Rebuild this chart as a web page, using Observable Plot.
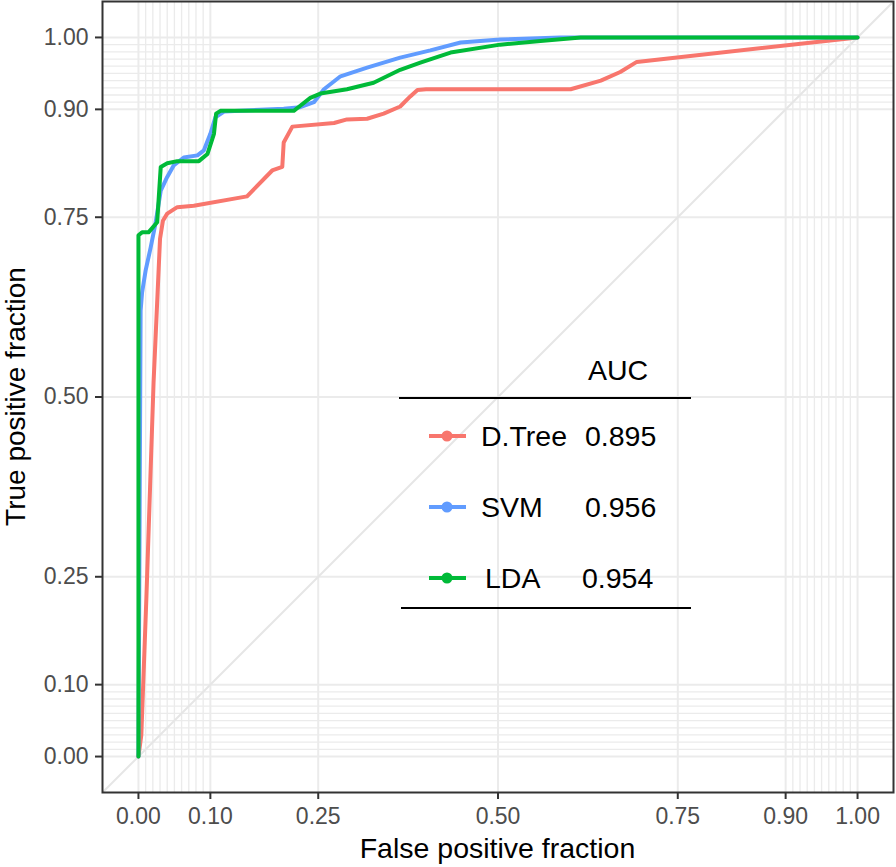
<!DOCTYPE html>
<html><head><meta charset="utf-8">
<script src="https://cdn.jsdelivr.net/npm/d3@7"></script>
<script src="https://cdn.jsdelivr.net/npm/@observablehq/plot@0.6"></script>
<style>
body{margin:0;background:#fff;}
#chart{position:relative;width:896px;height:867px;}
</style>
</head><body><div id="chart"></div>
<script>
// ---- data ----
const breaks = [0, 0.1, 0.25, 0.5, 0.75, 0.9, 1];
const tickLabels = ["0.00", "0.10", "0.25", "0.50", "0.75", "0.90", "1.00"];
const minorBreaks = [0.01,0.02,0.03,0.04,0.05,0.06,0.07,0.08,0.09,0.91,0.92,0.93,0.94,0.95,0.96,0.97,0.98,0.99];
const diagonal = [-0.05, 1.05];

const models = ["D.Tree", "SVM", "LDA"];
const aucValues = ["0.895", "0.956", "0.954"];
const modelColors = ["#F8766D", "#619CFF", "#00BA38"];

const dtreeFPR = [0,0.004,0.011,0.021,0.030,0.034,0.040,0.054,0.077,0.151,0.186,0.200,0.202,0.214,0.272,0.290,0.318,0.341,0.364,0.378,0.388,0.400,0.601,0.643,0.670,0.693,1];
const dtreeTPR = [0,0.03,0.22,0.52,0.72,0.745,0.755,0.764,0.766,0.779,0.815,0.820,0.854,0.876,0.881,0.886,0.887,0.894,0.904,0.918,0.927,0.928,0.928,0.940,0.952,0.966,1];

const svmFPR = [0,0.003,0.005,0.010,0.017,0.024,0.031,0.040,0.049,0.063,0.082,0.091,0.100,0.107,0.119,0.202,0.225,0.244,0.258,0.281,0.318,0.364,0.406,0.448,0.503,0.587,1];
const svmTPR = [0,0.62,0.645,0.676,0.708,0.743,0.787,0.806,0.822,0.833,0.836,0.843,0.866,0.889,0.897,0.901,0.903,0.910,0.928,0.946,0.958,0.972,0.982,0.993,0.997,1.0,1];

const ldaFPR = [0,0,0.005,0.014,0.026,0.031,0.040,0.054,0.084,0.096,0.105,0.108,0.114,0.216,0.225,0.239,0.253,0.290,0.327,0.364,0.392,0.434,0.503,0.559,0.615,1];
const ldaTPR = [0,0.725,0.729,0.729,0.743,0.820,0.825,0.828,0.828,0.838,0.866,0.894,0.898,0.898,0.905,0.916,0.922,0.928,0.937,0.955,0.965,0.979,0.990,0.995,1.0,1];

// ---- build table ----
const series = [[dtreeFPR, dtreeTPR], [svmFPR, svmTPR], [ldaFPR, ldaTPR]];
const rows = series.flatMap(([fx, ty], k) => fx.map((v, i) => ({model: models[k], fpr: v, tpr: ty[i]})));

const fontFamily = '"Liberation Sans", Arial, Helvetica, sans-serif';
const fmt = d => tickLabels[breaks.indexOf(d)];

const plot = Plot.plot({
  width: 896, height: 867,
  marginLeft: 102, marginRight: 3, marginTop: 1, marginBottom: 75,
  style: {fontFamily, background: "#fff"},
  x: {domain: [-0.05, 1.05]},
  y: {domain: [-0.05, 1.05]},
  color: {domain: models, range: modelColors},
  marks: [
    Plot.ruleX(minorBreaks, {stroke: "#ebebeb", strokeWidth: 1.3}),
    Plot.ruleY(minorBreaks, {stroke: "#ebebeb", strokeWidth: 1.3}),
    Plot.ruleX(breaks, {stroke: "#ebebeb", strokeWidth: 2}),
    Plot.ruleY(breaks, {stroke: "#ebebeb", strokeWidth: 2}),
    Plot.line(diagonal, {x: d => d, y: d => d, stroke: "#e6e6e6", strokeWidth: 2, clip: true}),
    Plot.line(rows, {x: "fpr", y: "tpr", z: "model", stroke: "model", strokeWidth: 4, strokeLinejoin: "round", strokeLinecap: "round"}),
    Plot.frame({stroke: "#333", strokeWidth: 2}),
    Plot.axisX({ticks: breaks, tickFormat: fmt, tickSize: 7, tickPadding: 8, fontSize: 23, stroke: "#333", strokeWidth: 2, fill: "#4d4d4d", label: null}),
    Plot.axisY({ticks: breaks, tickFormat: fmt, tickSize: 7, tickPadding: 7, fontSize: 23, stroke: "#333", strokeWidth: 2, fill: "#4d4d4d", label: null})
  ]
});
document.getElementById("chart").appendChild(plot);

// ---- axis titles and legend (layout overlay) ----
const svg = d3.select(plot);
svg.append("text").attr("x", 497.5).attr("y", 858).attr("text-anchor", "middle")
  .attr("font-size", 28.5).attr("font-family", fontFamily).attr("fill", "#000").text("False positive fraction");
svg.append("text").attr("transform", "translate(25,396.5) rotate(-90)").attr("text-anchor", "middle")
  .attr("font-size", 28).attr("font-family", fontFamily).attr("fill", "#000").text("True positive fraction");

const lg = svg.append("g").attr("font-family", fontFamily).attr("font-size", 28.5).attr("fill", "#000").attr("text-anchor", "start");
lg.append("text").attr("x", 618).attr("y", 370).attr("dy", "0.35em").attr("text-anchor", "middle").text("AUC");
lg.append("line").attr("x1", 399).attr("x2", 691).attr("y1", 398).attr("y2", 398).attr("stroke", "#000").attr("stroke-width", 2.2);
lg.append("line").attr("x1", 401).attr("x2", 691).attr("y1", 608).attr("y2", 608).attr("stroke", "#000").attr("stroke-width", 2.2);
const rowY = [436, 507, 578];
models.forEach((m, i) => {
  const y = rowY[i];
  lg.append("line").attr("x1", 429).attr("x2", 466).attr("y1", y).attr("y2", y).attr("stroke", modelColors[i]).attr("stroke-width", 4);
  lg.append("circle").attr("cx", 447).attr("cy", y).attr("r", 5.5).attr("fill", modelColors[i]);
  lg.append("text").attr("x", i === 2 ? 485 : 481).attr("y", y).attr("dy", "0.35em").attr("text-anchor", "start").text(m);
  lg.append("text").attr("x", i === 2 ? 582 : 585).attr("y", y).attr("dy", "0.35em").attr("text-anchor", "start").text(aucValues[i]);
});
</script>
</body></html>
